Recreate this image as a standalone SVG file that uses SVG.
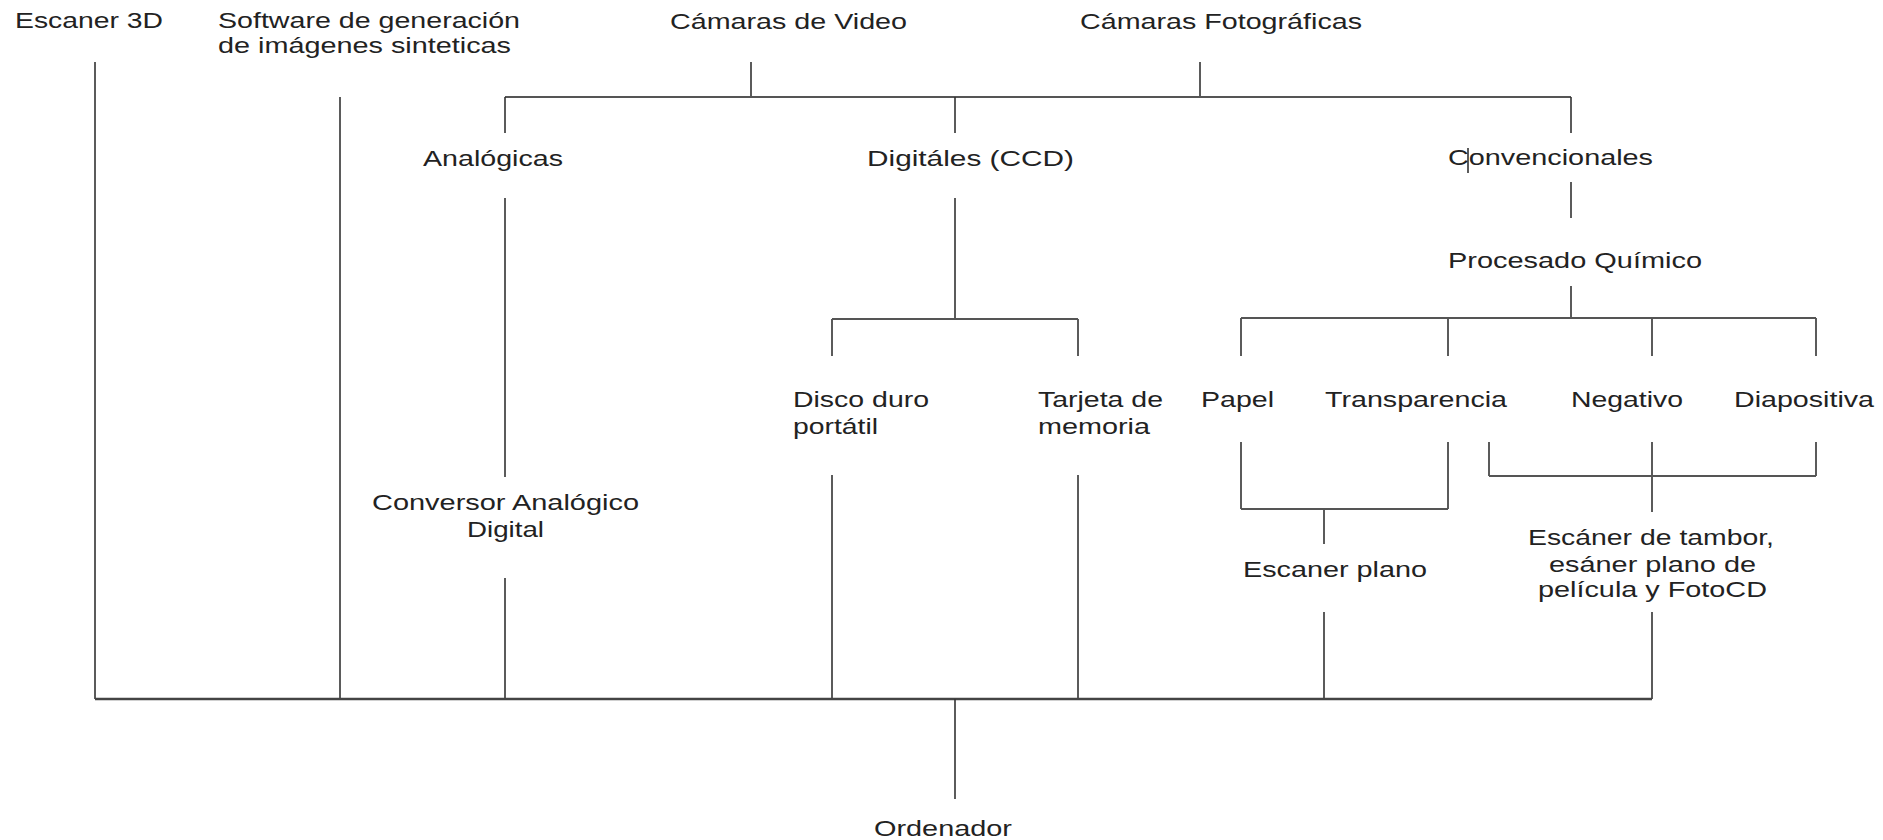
<svg xmlns="http://www.w3.org/2000/svg" width="1883" height="840" viewBox="0 0 1883 840">
<style>
text{font-family:"Liberation Sans",Arial,sans-serif;font-size:22px;fill:#222;}
.ln{stroke:#333;stroke-width:1.6;fill:none;stroke-linecap:butt;}
.bus{stroke:#555;stroke-width:2.2;fill:none;}
.bus2{stroke:#444;stroke-width:2.6;fill:none;}
</style>
<rect width="1883" height="840" fill="#fff"/>
<g id="connectors">
<path class="ln" d="M95,62V699 M340,97V699 M751,62V97 M1200,62V97"/>
<path class="bus" d="M505,97H1571"/>
<path class="ln" d="M505,97V133 M955,97V133 M1571,97V133"/>
<path class="ln" d="M505,198V477 M505,578V699"/>
<path class="ln" d="M955,198V319 M832,319V356 M1078,319V356"/>
<path class="bus" d="M832,319H1078"/>
<path class="ln" d="M832,475V699 M1078,475V699"/>
<path class="ln" d="M1571,182V218 M1468,148V173"/>
<path class="ln" d="M1571,286V318 M1241,318V356 M1448,318V356 M1652,318V356 M1816,318V356"/>
<path class="bus" d="M1241,318H1816"/>
<path class="ln" d="M1241,442V509 M1448,442V509 M1324,509V544 M1324,612V699"/>
<path class="bus" d="M1241,509H1448"/>
<path class="ln" d="M1489,442V476 M1816,442V476 M1652,442V512 M1652,612V699"/>
<path class="bus" d="M1489,476H1816"/>
<path class="bus2" d="M95,699H1652"/>
<path class="ln" d="M955,699V799"/>
</g>
<g id="escaner3d"><text x="15" y="28" textLength="148" lengthAdjust="spacingAndGlyphs">Escaner 3D</text></g>
<g id="software"><text x="218" y="28" textLength="302" lengthAdjust="spacingAndGlyphs">Software de generación</text><text x="218" y="53" textLength="293" lengthAdjust="spacingAndGlyphs">de imágenes sinteticas</text></g>
<g id="camaras-video"><text x="670" y="29" textLength="237" lengthAdjust="spacingAndGlyphs">Cámaras de Video</text></g>
<g id="camaras-foto"><text x="1080" y="29" textLength="282" lengthAdjust="spacingAndGlyphs">Cámaras Fotográficas</text></g>
<g id="analogicas"><text x="423" y="166" textLength="140" lengthAdjust="spacingAndGlyphs">Analógicas</text></g>
<g id="digitales"><text x="867" y="166" textLength="207" lengthAdjust="spacingAndGlyphs">Digitáles (CCD)</text></g>
<g id="convencionales"><text x="1448" y="165" textLength="205" lengthAdjust="spacingAndGlyphs">Convencionales</text></g>
<g id="procesado"><text x="1448" y="268" textLength="254" lengthAdjust="spacingAndGlyphs">Procesado Químico</text></g>
<g id="conversor"><text x="372" y="510" textLength="267" lengthAdjust="spacingAndGlyphs">Conversor Analógico</text><text x="467" y="537" textLength="77" lengthAdjust="spacingAndGlyphs">Digital</text></g>
<g id="disco"><text x="793" y="407" textLength="136" lengthAdjust="spacingAndGlyphs">Disco duro</text><text x="793" y="434" textLength="85" lengthAdjust="spacingAndGlyphs">portátil</text></g>
<g id="tarjeta"><text x="1038" y="407" textLength="125" lengthAdjust="spacingAndGlyphs">Tarjeta de</text><text x="1038" y="434" textLength="112" lengthAdjust="spacingAndGlyphs">memoria</text></g>
<g id="papel"><text x="1201" y="407" textLength="73" lengthAdjust="spacingAndGlyphs">Papel</text></g>
<g id="transparencia"><text x="1325" y="407" textLength="182" lengthAdjust="spacingAndGlyphs">Transparencia</text></g>
<g id="negativo"><text x="1571" y="407" textLength="112" lengthAdjust="spacingAndGlyphs">Negativo</text></g>
<g id="diapositiva"><text x="1734" y="407" textLength="140" lengthAdjust="spacingAndGlyphs">Diapositiva</text></g>
<g id="escaner-plano"><text x="1243" y="577" textLength="184" lengthAdjust="spacingAndGlyphs">Escaner plano</text></g>
<g id="escaner-tambor"><text x="1528" y="545" textLength="246" lengthAdjust="spacingAndGlyphs">Escáner de tambor,</text><text x="1549" y="572" textLength="207" lengthAdjust="spacingAndGlyphs">esáner plano de</text><text x="1538" y="597" textLength="229" lengthAdjust="spacingAndGlyphs">película y FotoCD</text></g>
<g id="ordenador"><text x="874" y="836" textLength="138" lengthAdjust="spacingAndGlyphs">Ordenador</text></g>
</svg>
